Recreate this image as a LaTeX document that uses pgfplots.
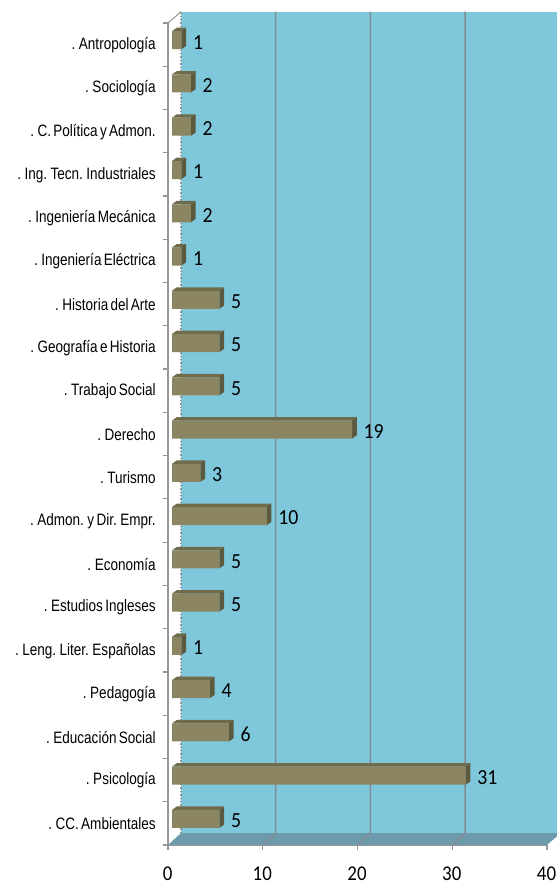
\documentclass[border=0pt]{standalone}
\usepackage{fontspec}
\setmainfont{Carlito}
\newfontfamily\labelfont[WordSpace=0.6]{Liberation Sans}
\usepackage{pgfplots}
\pgfplotsset{compat=1.18}
\definecolor{wall}{RGB}{127,200,220}
\definecolor{floorc}{RGB}{110,155,172}
\definecolor{gridc}{RGB}{128,140,148}
\definecolor{axisc}{RGB}{150,150,150}
\definecolor{barf}{RGB}{139,134,97}
\definecolor{bart}{RGB}{112,107,74}
\definecolor{bars}{RGB}{92,90,62}
\begin{document}
\begin{tikzpicture}
\useasboundingbox (0pt,0pt) rectangle (557pt,885pt);
\begin{axis}[
  at={(168pt,40pt)},
  anchor=south west,
  scale only axis, width=379pt, height=822pt,
  xmin=0, xmax=40, ymin=-0.5, ymax=18.5,
  clip=false,
  unbounded coords=jump,
  axis lines=left,
  axis line style={-,draw=axisc,line width=1.2pt},
  tick style={draw=axisc,line width=1.2pt},
  tick align=outside,
  xtick={0,10,20,30,40},
  ytick={-0.5,0.5,1.5,2.5,3.5,4.5,5.5,6.5,7.5,8.5,9.5,10.5,11.5,12.5,13.5,14.5,15.5,16.5,17.5,18.5},
  yticklabels={},
  major tick length=5.5pt,
  extra y ticks={0,1,2,3,4,5,6,7,8,9,10,11,12,13,14,15,16,17,18},
  extra y tick labels={. CC. Ambientales,. Psicología,. Educación Social,. Pedagogía,. Leng. Liter. Españolas,. Estudios Ingleses,. Economía,. Admon. y Dir. Empr.,. Turismo,. Derecho,. Trabajo Social,. Geografía e Historia,. Historia del Arte,. Ingeniería Eléctrica,. Ingeniería Mecánica,. Ing. Tecn. Industriales,. C. Política y Admon.,. Sociología,. Antropología},
  extra y tick style={major tick length=0pt, tick style={draw=none}, yticklabel style={font=\labelfont\fontsize{16.5}{17}\selectfont, xscale=0.82, anchor=east, xshift=-11.5pt, yshift=-0.5pt}},
  xticklabel style={font=\fontsize{21}{22}\selectfont, xscale=0.9, inner sep=0pt, yshift=-16pt, xshift=-0.5pt},
  /pgf/number format/assume math mode=true,
]
% wall
\addplot[fill=wall,draw=none,forget plot] coordinates {(1.37,-0.223)(41.05,-0.223)(41.05,18.76)(1.37,18.76)} -- cycle;
% floor
\addplot[fill=floorc,draw=none,forget plot] coordinates {(0,-0.5)(40,-0.5)(41.05,-0.3)(41.05,-0.223)(1.37,-0.223)} -- cycle;
% grid on back wall and floor
\addplot[gridc,line width=1.5pt,forget plot] coordinates {(10,-0.5)(11.37,-0.223)(11.37,18.76)};
\addplot[gridc,line width=1.5pt,forget plot] coordinates {(20,-0.5)(21.37,-0.223)(21.37,18.76)};
\addplot[gridc,line width=1.5pt,forget plot] coordinates {(30,-0.5)(31.37,-0.223)(31.37,18.76)};
\addplot[axisc,line width=1pt,forget plot] coordinates {(0,18.5)(1.37,18.76)};
\addplot[axisc,line width=1.4pt,dotted,forget plot] coordinates {(1.37,-0.223)(1.37,18.76)};
% top faces
\addplot[fill=bart,draw=none,xshift=4pt,forget plot] coordinates {
(0,0.31)(5,0.31)(5.5,0.39)(0.5,0.39)(nan,nan)
(0,1.31)(31,1.31)(31.5,1.39)(0.5,1.39)(nan,nan)
(0,2.31)(6,2.31)(6.5,2.39)(0.5,2.39)(nan,nan)
(0,3.31)(4,3.31)(4.5,3.39)(0.5,3.39)(nan,nan)
(0,4.31)(1,4.31)(1.5,4.39)(0.5,4.39)(nan,nan)
(0,5.31)(5,5.31)(5.5,5.39)(0.5,5.39)(nan,nan)
(0,6.31)(5,6.31)(5.5,6.39)(0.5,6.39)(nan,nan)
(0,7.31)(10,7.31)(10.5,7.39)(0.5,7.39)(nan,nan)
(0,8.31)(3,8.31)(3.5,8.39)(0.5,8.39)(nan,nan)
(0,9.31)(19,9.31)(19.5,9.39)(0.5,9.39)(nan,nan)
(0,10.31)(5,10.31)(5.5,10.39)(0.5,10.39)(nan,nan)
(0,11.31)(5,11.31)(5.5,11.39)(0.5,11.39)(nan,nan)
(0,12.31)(5,12.31)(5.5,12.39)(0.5,12.39)(nan,nan)
(0,13.31)(1,13.31)(1.5,13.39)(0.5,13.39)(nan,nan)
(0,14.31)(2,14.31)(2.5,14.39)(0.5,14.39)(nan,nan)
(0,15.31)(1,15.31)(1.5,15.39)(0.5,15.39)(nan,nan)
(0,16.31)(2,16.31)(2.5,16.39)(0.5,16.39)(nan,nan)
(0,17.31)(2,17.31)(2.5,17.39)(0.5,17.39)(nan,nan)
(0,18.31)(1,18.31)(1.5,18.39)(0.5,18.39)
};
% side faces
\addplot[fill=bars,draw=none,xshift=4pt,forget plot] coordinates {
(5,-0.106)(5,0.31)(5.5,0.39)(5.5,-0.03)(nan,nan)
(31,0.894)(31,1.31)(31.5,1.39)(31.5,0.97)(nan,nan)
(6,1.894)(6,2.31)(6.5,2.39)(6.5,1.97)(nan,nan)
(4,2.894)(4,3.31)(4.5,3.39)(4.5,2.97)(nan,nan)
(1,3.894)(1,4.31)(1.5,4.39)(1.5,3.97)(nan,nan)
(5,4.894)(5,5.31)(5.5,5.39)(5.5,4.97)(nan,nan)
(5,5.894)(5,6.31)(5.5,6.39)(5.5,5.97)(nan,nan)
(10,6.894)(10,7.31)(10.5,7.39)(10.5,6.97)(nan,nan)
(3,7.894)(3,8.31)(3.5,8.39)(3.5,7.97)(nan,nan)
(19,8.894)(19,9.31)(19.5,9.39)(19.5,8.97)(nan,nan)
(5,9.894)(5,10.31)(5.5,10.39)(5.5,9.97)(nan,nan)
(5,10.894)(5,11.31)(5.5,11.39)(5.5,10.97)(nan,nan)
(5,11.894)(5,12.31)(5.5,12.39)(5.5,11.97)(nan,nan)
(1,12.894)(1,13.31)(1.5,13.39)(1.5,12.97)(nan,nan)
(2,13.894)(2,14.31)(2.5,14.39)(2.5,13.97)(nan,nan)
(1,14.894)(1,15.31)(1.5,15.39)(1.5,14.97)(nan,nan)
(2,15.894)(2,16.31)(2.5,16.39)(2.5,15.97)(nan,nan)
(2,16.894)(2,17.31)(2.5,17.39)(2.5,16.97)(nan,nan)
(1,17.894)(1,18.31)(1.5,18.39)(1.5,17.97)
};
% front faces
\addplot[xbar, bar width=18pt, bar shift=4.4pt, fill=barf, draw=none, xshift=4pt,
  nodes near coords, point meta=x,
  every node near coord/.append style={font=\fontsize{21.5}{22}\selectfont, xscale=0.92, anchor=west, inner sep=0pt, xshift=12.5pt, yshift=2.5pt, text=black},
  nodes near coords style={/pgf/number format/assume math mode=true}
] coordinates {
(5,0)(31,1)(6,2)(4,3)(1,4)(5,5)(5,6)(10,7)(3,8)(19,9)(5,10)(5,11)(5,12)(1,13)(2,14)(1,15)(2,16)(2,17)(1,18)
};
\end{axis}
\end{tikzpicture}
\end{document}
